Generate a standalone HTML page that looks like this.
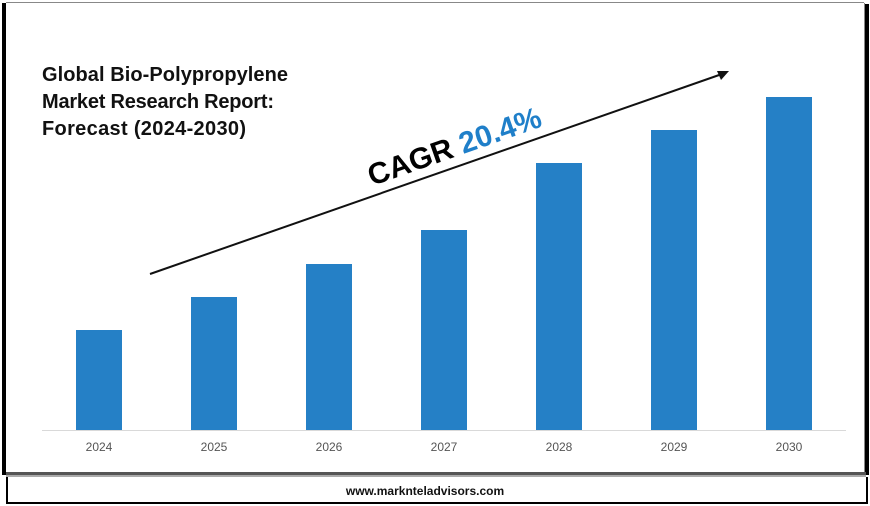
<!DOCTYPE html>
<html><head><style>
html,body{margin:0;padding:0;background:#fff;width:870px;height:506px;overflow:hidden}
svg{display:block}
</style></head><body>
<svg width="870" height="506" viewBox="0 0 870 506" xmlns="http://www.w3.org/2000/svg" font-family="'Liberation Sans', sans-serif">
<rect width="870" height="506" fill="#fff"/>
<line x1="6" y1="2.5" x2="864" y2="2.5" stroke="#888" stroke-width="1"/>
<rect x="2" y="3" width="4" height="472" fill="#000"/>
<line x1="864.5" y1="3" x2="864.5" y2="473" stroke="#888" stroke-width="1"/>
<rect x="865" y="4" width="4" height="471" fill="#000"/>
<rect x="6" y="472" width="860" height="3" fill="#555"/>
<rect x="6" y="475" width="860" height="2" fill="#aaa"/>
<rect x="6" y="477" width="2" height="27" fill="#000"/>
<rect x="866" y="477" width="2" height="27" fill="#000"/>
<rect x="6" y="502" width="862" height="2" fill="#000"/>
<text x="425" y="495" text-anchor="middle" font-size="12" font-weight="bold" fill="#111">www.marknteladvisors.com</text>
<line x1="42" y1="430.5" x2="846" y2="430.5" stroke="#d9d9d9" stroke-width="1"/>
<g fill="#2580c6">
<rect x="76" y="330" width="46" height="100"/>
<rect x="191" y="297" width="46" height="133"/>
<rect x="306" y="264" width="46" height="166"/>
<rect x="421" y="230" width="46" height="200"/>
<rect x="536" y="163" width="46" height="267"/>
<rect x="651" y="130" width="46" height="300"/>
<rect x="766" y="97" width="46" height="333"/>
</g>
<g font-size="12" fill="#555" text-anchor="middle">
<text x="99" y="451">2024</text><text x="214" y="451">2025</text><text x="329" y="451">2026</text>
<text x="444" y="451">2027</text><text x="559" y="451">2028</text><text x="674" y="451">2029</text><text x="789" y="451">2030</text>
</g>
<g font-size="20" font-weight="bold" fill="#111">
<text x="42" y="81" textLength="246">Global Bio-Polypropylene</text>
<text x="42" y="108" textLength="232">Market Research Report:</text>
<text x="42" y="135" textLength="204">Forecast (2024-2030)</text>
</g>
<line x1="150" y1="274" x2="722" y2="74" stroke="#111" stroke-width="2"/>
<polygon points="729,71 717,71 721,80" fill="#111"/>
<text transform="translate(372,186) rotate(-19.3)" font-size="30" font-weight="bold"><tspan fill="#000">CAGR </tspan><tspan fill="#1f7fc9">20.4%</tspan></text>
</svg>
</body></html>
